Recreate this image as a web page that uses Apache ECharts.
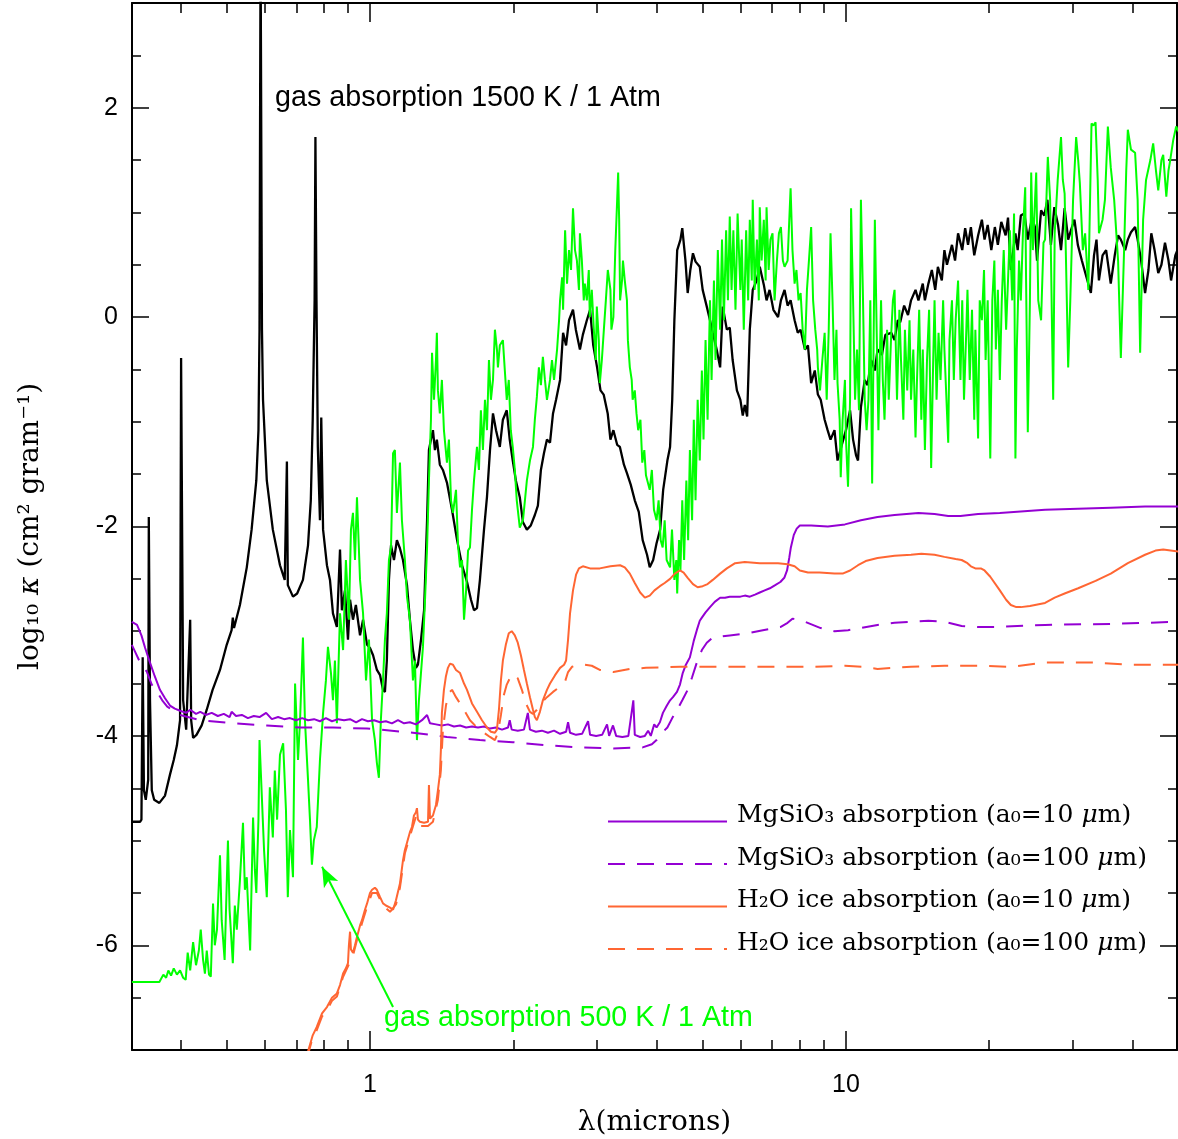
<!DOCTYPE html>
<html><head><meta charset="utf-8">
<script src="https://cdn.jsdelivr.net/npm/echarts@6/dist/echarts.min.js"></script>
<style>html,body{margin:0;padding:0;background:#fff}#c{width:1178px;height:1139px}</style>
</head><body><div id="c"></div>
<script>
// ---- tick values ----
const xMajorTicks = [1, 10];
const xMinorTicks = [0.4,0.5,0.6,0.7,0.8,0.9,2,3,4,5,6,7,8,9,20,30,40];
const yMajorTicks = [-6,-4,-2,0,2];
const yMinorTicks = [-6.5,-5.5,-5,-4.5,-3.5,-3,-2.5,-1.5,-1,-0.5,0.5,1,1.5,2.5];

// ---- series names ----
const names = [
  'MgSiO\u2083 absorption (a\u2080=10 \u03bcm)',
  'MgSiO\u2083 absorption (a\u2080=100 \u03bcm)',
  'H\u2082O ice absorption (a\u2080=10 \u03bcm)',
  'H\u2082O ice absorption (a\u2080=100 \u03bcm)'
];

// ---- gas absorption 1500 K / 1 Atm  [lambda (micron), log10 kappa] ----
const gas1500K = [[0.316,-4.82],[0.329,-4.82],[0.331,-4.80],[0.333,-3.25],[0.335,-4.52],[0.338,-4.61],[0.342,-4.42],[0.343,-1.91],[0.345,-3.66],[0.348,-4.52],[0.352,-4.61],[0.361,-4.64],[0.371,-4.57],[0.380,-4.37],[0.387,-4.23],[0.393,-4.09],[0.399,-3.85],[0.401,-0.39],[0.405,-3.66],[0.411,-3.94],[0.419,-2.89],[0.421,-3.85],[0.425,-4.02],[0.432,-3.99],[0.443,-3.90],[0.454,-3.75],[0.467,-3.56],[0.484,-3.37],[0.500,-3.13],[0.512,-2.99],[0.515,-2.87],[0.518,-2.97],[0.533,-2.75],[0.551,-2.39],[0.564,-2.03],[0.577,-1.56],[0.583,-1.08],[0.586,-0.12],[0.589,3.6],[0.593,-0.12],[0.596,-0.79],[0.607,-1.56],[0.625,-2.03],[0.647,-2.37],[0.662,-2.51],[0.669,-1.38],[0.672,-2.56],[0.689,-2.67],[0.703,-2.64],[0.723,-2.51],[0.741,-2.18],[0.751,-1.75],[0.758,-0.98],[0.765,0.16],[0.768,1.72],[0.772,0.16],[0.777,-1.24],[0.785,-1.94],[0.790,-0.96],[0.797,-2.03],[0.812,-2.37],[0.824,-2.51],[0.836,-2.83],[0.852,-2.96],[0.865,-2.22],[0.873,-2.80],[0.886,-2.61],[0.899,-3.08],[0.908,-2.70],[0.921,-2.89],[0.934,-2.75],[0.953,-3.04],[0.967,-2.89],[0.986,-3.13],[1.0,-3.16],[1.015,-3.23],[1.034,-3.37],[1.05,-3.42],[1.065,-3.56],[1.075,-3.58],[1.085,-3.28],[1.096,-2.51],[1.107,-2.18],[1.123,-2.32],[1.139,-2.13],[1.156,-2.21],[1.173,-2.32],[1.196,-2.56],[1.213,-2.89],[1.231,-3.18],[1.249,-3.35],[1.261,-3.32],[1.28,-3.08],[1.299,-2.80],[1.318,-1.94],[1.33,-1.27],[1.343,-1.17],[1.356,-1.08],[1.369,-1.27],[1.382,-1.17],[1.402,-1.41],[1.423,-1.46],[1.451,-1.58],[1.487,-1.84],[1.524,-2.13],[1.561,-2.37],[1.599,-2.53],[1.63,-2.70],[1.654,-2.80],[1.678,-2.78],[1.702,-2.51],[1.736,-2.03],[1.761,-1.72],[1.787,-1.27],[1.813,-0.92],[1.84,-1.08],[1.874,-1.24],[1.902,-0.98],[1.938,-0.89],[1.966,-1.17],[1.995,-1.37],[2.025,-1.56],[2.064,-1.72],[2.096,-1.96],[2.136,-2.03],[2.177,-1.99],[2.22,-1.89],[2.253,-1.80],[2.286,-1.46],[2.32,-1.30],[2.354,-1.17],[2.389,-1.20],[2.424,-0.92],[2.46,-0.79],[2.508,-0.60],[2.545,-0.15],[2.582,-0.27],[2.619,-0.03],[2.67,0.07],[2.707,-0.12],[2.761,-0.31],[2.8,-0.17],[2.855,-0.03],[2.9,0.07],[2.945,-0.27],[3.0,-0.48],[3.05,-0.70],[3.097,-0.74],[3.158,-0.92],[3.2,-1.17],[3.246,-1.08],[3.306,-1.22],[3.35,-1.24],[3.416,-1.41],[3.466,-1.49],[3.53,-1.60],[3.6,-1.75],[3.67,-1.86],[3.74,-2.13],[3.82,-2.27],[3.87,-2.39],[3.935,-2.32],[4.0,-2.16],[4.07,-2.03],[4.13,-1.65],[4.215,-1.37],[4.27,-1.24],[4.315,-0.79],[4.36,-0.03],[4.42,0.64],[4.49,0.74],[4.53,0.85],[4.6,0.54],[4.65,0.23],[4.71,0.45],[4.77,0.61],[4.83,0.53],[4.93,0.48],[5.0,0.26],[5.1,0.10],[5.18,-0.03],[5.25,-0.15],[5.35,-0.31],[5.44,-0.48],[5.51,0.10],[5.62,-0.12],[5.7,-0.10],[5.78,-0.41],[5.9,-0.70],[6.0,-0.79],[6.07,-0.94],[6.13,-0.84],[6.2,-0.95],[6.28,-0.12],[6.37,0.26],[6.49,0.35],[6.59,0.48],[6.72,0.31],[6.81,0.16],[6.91,0.26],[7.04,0.07],[7.2,0.0],[7.3,0.16],[7.43,0.26],[7.54,0.11],[7.65,0.16],[7.8,-0.03],[7.92,-0.15],[8.03,-0.12],[8.2,-0.31],[8.32,-0.27],[8.45,-0.63],[8.6,-0.51],[8.73,-0.74],[8.85,-0.79],[9.02,-0.98],[9.15,-1.08],[9.28,-1.17],[9.46,-1.08],[9.6,-1.37],[9.8,-1.22],[10.0,-1.08],[10.2,-0.89],[10.35,-1.17],[10.5,-1.32],[10.6,-1.37],[10.75,-0.86],[10.95,-0.60],[11.1,-0.65],[11.3,-0.41],[11.5,-0.51],[11.65,-0.31],[11.9,-0.36],[12.1,-0.17],[12.45,-0.15],[12.65,-0.22],[12.85,-0.03],[13.0,-0.05],[13.25,0.11],[13.5,0.02],[13.7,0.16],[14.0,0.26],[14.2,0.16],[14.5,0.32],[14.65,0.16],[14.9,0.32],[15.15,0.45],[15.4,0.26],[15.6,0.48],[15.9,0.35],[16.1,0.64],[16.3,0.50],[16.7,0.69],[16.95,0.54],[17.2,0.80],[17.55,0.64],[17.8,0.85],[18.05,0.69],[18.3,0.86],[18.6,0.59],[18.95,0.78],[19.3,0.93],[19.55,0.74],[19.85,0.88],[20.2,0.64],[20.55,0.86],[20.85,0.69],[21.2,0.91],[21.65,0.78],[21.9,0.95],[22.2,0.45],[22.7,0.80],[22.95,0.64],[23.3,0.97],[23.7,0.99],[24.1,0.74],[24.6,0.95],[24.95,0.86],[25.2,0.54],[25.7,1.02],[26.1,0.97],[26.5,1.12],[26.95,0.69],[27.4,1.05],[27.9,0.88],[28.3,0.64],[28.8,1.04],[29.3,0.74],[29.7,0.83],[30.2,0.93],[30.7,0.69],[31.3,0.54],[32.7,0.23],[33.2,0.59],[33.6,0.74],[34.0,0.35],[34.6,0.59],[35.2,0.64],[36.0,0.32],[36.7,0.59],[37.3,0.78],[37.8,0.74],[38.6,0.64],[39.1,0.74],[39.7,0.81],[40.5,0.86],[41.0,0.74],[41.7,0.54],[42.5,0.23],[43.2,0.45],[43.8,0.80],[44.5,0.64],[45.3,0.42],[46.0,0.50],[46.8,0.71],[47.6,0.54],[48.2,0.35],[49.2,0.59],[50.0,0.67]];

// ---- gas absorption 500 K / 1 Atm ----
const gas500K = [[0.316,-6.35],[0.361,-6.35],[0.368,-6.28],[0.373,-6.31],[0.377,-6.24],[0.382,-6.29],[0.387,-6.22],[0.393,-6.28],[0.399,-6.24],[0.405,-6.31],[0.41,-6.33],[0.414,-6.07],[0.419,-6.24],[0.425,-5.97],[0.431,-6.19],[0.437,-6.05],[0.441,-5.85],[0.446,-6.14],[0.45,-6.27],[0.454,-6.05],[0.459,-6.28],[0.463,-6.30],[0.468,-5.60],[0.472,-6.00],[0.477,-5.85],[0.484,-5.14],[0.488,-5.76],[0.495,-6.14],[0.503,-5.00],[0.507,-5.66],[0.515,-6.17],[0.52,-5.62],[0.525,-5.85],[0.533,-5.38],[0.541,-4.83],[0.546,-5.47],[0.551,-5.35],[0.56,-6.05],[0.568,-4.78],[0.573,-5.28],[0.577,-5.50],[0.583,-4.80],[0.586,-4.04],[0.593,-4.61],[0.599,-5.09],[0.607,-5.54],[0.616,-4.49],[0.625,-4.97],[0.631,-4.33],[0.638,-4.80],[0.647,-4.18],[0.657,-4.07],[0.666,-4.71],[0.672,-5.54],[0.679,-4.90],[0.689,-5.35],[0.696,-3.50],[0.706,-4.23],[0.713,-3.85],[0.723,-3.06],[0.73,-3.85],[0.741,-4.42],[0.748,-4.80],[0.755,-5.23],[0.762,-5.00],[0.773,-4.87],[0.785,-4.23],[0.797,-3.78],[0.808,-3.47],[0.816,-3.15],[0.828,-3.40],[0.836,-3.66],[0.844,-3.28],[0.852,-3.88],[0.865,-2.83],[0.878,-3.18],[0.89,-2.32],[0.903,-2.89],[0.912,-2.03],[0.921,-1.87],[0.93,-2.32],[0.939,-1.72],[0.953,-2.51],[0.967,-2.83],[0.981,-3.47],[0.995,-3.08],[1.01,-3.85],[1.024,-4.04],[1.034,-4.26],[1.044,-4.40],[1.054,-3.85],[1.065,-3.47],[1.075,-3.08],[1.085,-2.83],[1.096,-2.32],[1.107,-2.20],[1.118,-1.30],[1.128,-1.27],[1.139,-1.87],[1.156,-1.39],[1.167,-1.94],[1.184,-2.32],[1.196,-2.67],[1.213,-2.89],[1.231,-3.47],[1.243,-3.28],[1.255,-4.04],[1.267,-3.66],[1.292,-3.15],[1.305,-2.70],[1.318,-2.20],[1.33,-1.56],[1.343,-0.98],[1.35,-0.34],[1.363,-0.79],[1.376,-0.41],[1.382,-0.15],[1.389,-0.70],[1.402,-0.92],[1.416,-0.60],[1.43,-1.08],[1.451,-1.39],[1.465,-1.17],[1.48,-1.75],[1.494,-1.87],[1.516,-1.65],[1.531,-2.18],[1.546,-2.39],[1.561,-2.32],[1.576,-2.89],[1.592,-2.61],[1.607,-2.23],[1.622,-2.20],[1.638,-1.84],[1.654,-1.56],[1.678,-1.24],[1.694,-1.46],[1.71,-0.89],[1.727,-1.27],[1.744,-0.79],[1.761,-1.08],[1.778,-0.41],[1.795,-0.79],[1.813,-0.60],[1.83,-0.12],[1.848,-0.31],[1.857,-0.48],[1.874,-0.27],[1.902,-0.22],[1.92,-0.51],[1.938,-0.79],[1.957,-0.60],[1.976,-1.08],[1.995,-1.24],[2.015,-1.46],[2.034,-1.75],[2.064,-2.01],[2.096,-1.94],[2.116,-1.75],[2.136,-1.56],[2.168,-1.37],[2.2,-1.24],[2.22,-0.98],[2.242,-0.76],[2.264,-0.48],[2.286,-0.65],[2.308,-0.38],[2.331,-0.60],[2.354,-0.79],[2.389,-0.60],[2.412,-0.41],[2.436,-0.60],[2.472,-0.31],[2.496,-0.03],[2.508,0.16],[2.533,0.38],[2.545,0.07],[2.57,0.83],[2.594,0.32],[2.619,0.64],[2.645,0.45],[2.67,1.04],[2.696,0.64],[2.721,0.54],[2.748,0.26],[2.761,0.80],[2.787,0.54],[2.813,0.16],[2.827,0.32],[2.855,0.16],[2.882,0.45],[2.896,0.0],[2.924,0.26],[2.953,-0.12],[2.981,-0.41],[2.996,0.10],[3.025,-0.22],[3.04,-0.63],[3.07,-0.41],[3.1,-0.12],[3.13,0.16],[3.16,0.45],[3.2,0.26],[3.215,-0.12],[3.246,0.0],[3.276,0.64],[3.306,1.12],[3.322,1.38],[3.338,0.93],[3.353,0.16],[3.385,0.35],[3.4,0.54],[3.43,0.35],[3.466,0.16],[3.482,-0.22],[3.515,-0.48],[3.547,-0.60],[3.563,-0.79],[3.6,-0.70],[3.63,-0.92],[3.66,-1.08],[3.7,-0.98],[3.733,-1.39],[3.77,-1.27],[3.8,-1.51],[3.87,-1.65],[3.91,-1.46],[3.95,-1.84],[4.0,-1.94],[4.04,-1.75],[4.08,-2.13],[4.12,-2.20],[4.16,-1.94],[4.2,-2.32],[4.27,-2.39],[4.31,-2.03],[4.36,-2.51],[4.4,-2.32],[4.42,-2.64],[4.46,-2.13],[4.49,-2.42],[4.53,-1.75],[4.57,-2.32],[4.62,-1.56],[4.66,-2.13],[4.7,-1.27],[4.75,-1.94],[4.79,-0.98],[4.83,-1.75],[4.88,-0.79],[4.93,-1.37],[4.98,-0.51],[5.02,-1.17],[5.07,-0.22],[5.12,-0.98],[5.18,0.16],[5.22,-0.60],[5.28,0.35],[5.32,-0.41],[5.38,0.64],[5.44,-0.12],[5.49,0.74],[5.54,-0.03],[5.6,0.83],[5.65,0.16],[5.7,0.96],[5.75,0.26],[5.8,0.83],[5.86,0.07],[5.92,0.99],[6.0,0.26],[6.04,0.74],[6.1,-0.12],[6.17,0.83],[6.23,0.16],[6.28,0.93],[6.34,0.35],[6.37,1.12],[6.43,0.26],[6.5,0.74],[6.56,0.16],[6.59,1.05],[6.65,0.54],[6.72,0.93],[6.78,0.35],[6.81,1.05],[6.88,0.45],[6.94,0.74],[7.01,0.80],[7.08,0.16],[7.16,0.54],[7.23,0.80],[7.3,0.86],[7.37,0.54],[7.43,0.48],[7.54,0.54],[7.65,1.23],[7.72,0.64],[7.8,0.32],[7.87,0.45],[7.95,0.16],[8.03,0.23],[8.11,-0.12],[8.2,-0.31],[8.28,0.26],[8.36,0.54],[8.45,0.86],[8.53,0.16],[8.62,-0.12],[8.7,-0.31],[8.73,-0.48],[8.82,-0.70],[8.92,-0.41],[9.02,-0.15],[9.11,-0.79],[9.2,-0.12],[9.28,0.80],[9.37,0.16],[9.46,-0.60],[9.55,-0.12],[9.6,-0.63],[9.7,-0.98],[9.75,-1.53],[9.84,-0.98],[9.95,-0.60],[10.0,-1.17],[10.1,-1.62],[10.2,-0.79],[10.25,1.04],[10.35,0.16],[10.45,-0.79],[10.55,-0.31],[10.65,-0.89],[10.75,1.12],[10.85,0.26],[10.95,-0.79],[11.05,-1.08],[11.15,-0.79],[11.25,0.16],[11.35,-1.59],[11.5,0.93],[11.6,-0.12],[11.7,-1.08],[11.85,0.16],[11.95,-0.60],[12.05,-0.98],[12.2,-0.12],[12.3,-0.79],[12.45,-0.15],[12.55,0.16],[12.65,0.26],[12.8,-0.79],[12.95,0.07],[13.05,-0.41],[13.2,-0.98],[13.3,-0.12],[13.45,-0.70],[13.6,-0.03],[13.7,-0.79],[13.85,-0.31],[14.0,-1.15],[14.1,-0.60],[14.25,0.07],[14.4,-0.98],[14.5,-0.31],[14.65,-1.27],[14.8,-0.41],[14.95,0.07],[15.1,-1.44],[15.25,-0.41],[15.35,0.16],[15.5,-0.79],[15.65,-0.15],[15.8,-0.60],[16.0,0.16],[16.1,-0.31],[16.4,-1.20],[16.5,-0.22],[16.7,0.16],[16.85,-0.60],[17.0,-0.03],[17.2,0.35],[17.4,-0.60],[17.55,0.16],[17.7,-0.79],[17.9,-0.12],[18.0,0.26],[18.2,-0.60],[18.4,0.07],[18.6,-0.98],[18.7,-0.12],[18.95,-1.16],[19.1,0.16],[19.3,-0.03],[19.5,0.45],[19.65,-0.41],[19.85,0.16],[20.1,-1.35],[20.3,0.16],[20.5,0.54],[20.65,-0.31],[20.85,0.26],[21.05,-0.60],[21.25,0.16],[21.45,0.64],[21.7,-0.12],[21.9,0.35],[22.1,0.83],[22.35,0.16],[22.55,0.99],[22.7,-1.35],[22.85,-0.31],[23.1,0.54],[23.3,0.16],[23.55,0.83],[23.8,1.24],[23.9,0.35],[24.1,-1.10],[24.35,0.16],[24.5,1.38],[24.7,0.64],[25.1,1.38],[25.35,0.16],[25.7,-0.03],[26.0,0.71],[26.2,0.74],[26.55,1.53],[26.85,1.12],[27.1,-0.12],[27.25,-0.79],[27.45,0.80],[27.85,1.31],[28.3,1.72],[28.55,1.31],[28.8,1.18],[29.3,-0.48],[29.6,0.16],[30.0,1.12],[30.45,1.72],[30.75,1.50],[31.0,1.28],[31.45,0.64],[31.8,0.80],[32.3,0.26],[32.8,1.85],[33.1,1.83],[33.45,1.86],[33.8,1.31],[34.0,0.80],[34.6,0.93],[35.0,1.12],[35.5,1.82],[36.0,1.43],[36.6,1.12],[37.3,0.54],[37.8,-0.39],[38.4,0.64],[38.8,1.40],[39.1,1.79],[39.7,1.60],[40.5,1.57],[41.0,1.12],[41.5,-0.34],[42.1,0.93],[42.7,1.31],[43.6,1.50],[44.2,1.66],[44.8,1.40],[45.3,1.21],[46.0,1.50],[46.4,1.55],[47.1,1.15],[47.6,1.40],[48.0,1.50],[48.7,1.69],[49.4,1.82],[50.0,1.77]];

// ---- MgSiO3, a0 = 10 micron ----
const mgsio3_10 = [[0.316,-2.91],[0.324,-2.94],[0.331,-3.04],[0.337,-3.16],[0.345,-3.30],[0.353,-3.43],[0.362,-3.56],[0.371,-3.64],[0.38,-3.71],[0.389,-3.74],[0.399,-3.76],[0.411,-3.78],[0.419,-3.75],[0.431,-3.79],[0.44,-3.77],[0.452,-3.80],[0.465,-3.78],[0.479,-3.81],[0.493,-3.79],[0.507,-3.82],[0.512,-3.77],[0.523,-3.81],[0.538,-3.80],[0.554,-3.83],[0.57,-3.81],[0.586,-3.82],[0.605,-3.78],[0.622,-3.84],[0.641,-3.82],[0.66,-3.84],[0.679,-3.83],[0.699,-3.85],[0.72,-3.83],[0.741,-3.85],[0.763,-3.84],[0.785,-3.86],[0.808,-3.83],[0.832,-3.86],[0.857,-3.84],[0.882,-3.85],[0.908,-3.84],[0.935,-3.87],[0.962,-3.84],[0.99,-3.86],[1.02,-3.85],[1.05,-3.87],[1.08,-3.86],[1.112,-3.88],[1.145,-3.85],[1.179,-3.88],[1.213,-3.87],[1.249,-3.89],[1.286,-3.85],[1.318,-3.80],[1.337,-3.88],[1.376,-3.89],[1.416,-3.90],[1.458,-3.89],[1.501,-3.91],[1.546,-3.90],[1.592,-3.92],[1.638,-3.91],[1.686,-3.92],[1.736,-3.91],[1.787,-3.93],[1.84,-3.92],[1.894,-3.94],[1.95,-3.92],[1.966,-3.85],[1.985,-3.94],[2.044,-3.95],[2.106,-3.94],[2.146,-3.78],[2.168,-3.94],[2.231,-3.96],[2.297,-3.95],[2.365,-3.97],[2.436,-3.95],[2.508,-3.98],[2.582,-3.96],[2.607,-3.87],[2.632,-3.97],[2.71,-3.99],[2.79,-3.98],[2.872,-3.86],[2.9,-3.99],[2.986,-4.00],[3.074,-3.99],[3.148,-3.89],[3.18,-4.00],[3.24,-3.90],[3.29,-4.00],[3.39,-4.01],[3.49,-4.00],[3.575,-3.66],[3.6,-3.99],[3.695,-4.01],[3.78,-4.00],[3.84,-3.95],[3.89,-4.00],[3.955,-3.89],[4.0,-3.92],[4.065,-3.87],[4.125,-3.78],[4.205,-3.71],[4.27,-3.66],[4.33,-3.63],[4.415,-3.58],[4.48,-3.51],[4.54,-3.40],[4.61,-3.32],[4.7,-3.25],[4.79,-3.09],[4.86,-2.99],[4.93,-2.90],[4.98,-2.87],[5.07,-2.82],[5.18,-2.77],[5.3,-2.72],[5.44,-2.68],[5.57,-2.68],[5.7,-2.67],[5.85,-2.67],[6.0,-2.67],[6.13,-2.66],[6.28,-2.67],[6.44,-2.65],[6.59,-2.63],[6.75,-2.61],[6.92,-2.59],[7.1,-2.56],[7.28,-2.53],[7.42,-2.49],[7.52,-2.42],[7.6,-2.30],[7.66,-2.20],[7.77,-2.08],[7.88,-2.02],[8.0,-1.99],[8.45,-1.99],[9.16,-2.00],[9.95,-1.98],[10.75,-1.94],[11.65,-1.91],[12.65,-1.89],[14.2,-1.87],[15.35,-1.88],[16.4,-1.90],[17.4,-1.90],[18.95,-1.88],[21.05,-1.87],[26.2,-1.84],[36.0,-1.82],[42.5,-1.81],[50.0,-1.81]];

// ---- MgSiO3, a0 = 100 micron ----
const mgsio3_100 = [[0.316,-3.13],[0.329,-3.30],[0.34,-3.39],[0.348,-3.51],[0.357,-3.58],[0.366,-3.66],[0.375,-3.72],[0.386,-3.76],[0.399,-3.80],[0.44,-3.85],[0.515,-3.88],[0.607,-3.90],[0.713,-3.92],[0.836,-3.92],[0.986,-3.93],[1.05,-3.94],[1.231,-3.97],[1.451,-4.01],[1.702,-4.04],[1.995,-4.06],[2.354,-4.09],[2.761,-4.11],[3.246,-4.12],[3.74,-4.11],[3.91,-4.08],[4.0,-4.04],[4.11,-3.97],[4.215,-3.92],[4.315,-3.83],[4.42,-3.75],[4.53,-3.66],[4.65,-3.56],[4.75,-3.44],[4.86,-3.30],[4.98,-3.18],[5.1,-3.11],[5.25,-3.06],[5.49,-3.05],[5.7,-3.04],[6.2,-3.02],[6.69,-2.99],[7.28,-2.96],[7.54,-2.92],[7.72,-2.88],[7.92,-2.89],[8.2,-2.91],[8.85,-2.97],[9.46,-3.00],[10.1,-2.99],[10.75,-2.97],[11.65,-2.94],[12.65,-2.92],[14.9,-2.90],[16.1,-2.91],[17.5,-2.95],[18.95,-2.96],[20.55,-2.96],[26.2,-2.94],[36.0,-2.93],[50.0,-2.91]];

// ---- H2O ice, a0 = 10 micron ----
const ice_10 = [[0.734,-7.08],[0.748,-6.95],[0.758,-6.86],[0.773,-6.78],[0.793,-6.65],[0.812,-6.59],[0.832,-6.50],[0.852,-6.46],[0.865,-6.38],[0.878,-6.27],[0.89,-6.22],[0.899,-6.17],[0.903,-6.00],[0.908,-5.87],[0.912,-6.04],[0.921,-6.07],[0.93,-6.00],[0.939,-5.92],[0.953,-5.81],[0.962,-5.76],[0.976,-5.66],[0.986,-5.60],[1.0,-5.50],[1.01,-5.47],[1.024,-5.45],[1.034,-5.47],[1.05,-5.54],[1.065,-5.60],[1.08,-5.62],[1.102,-5.64],[1.118,-5.66],[1.134,-5.57],[1.156,-5.41],[1.173,-5.19],[1.184,-5.09],[1.196,-5.02],[1.213,-4.92],[1.225,-4.87],[1.237,-4.76],[1.249,-4.73],[1.255,-4.69],[1.261,-4.80],[1.273,-4.82],[1.299,-4.83],[1.324,-4.82],[1.33,-4.47],[1.337,-4.79],[1.356,-4.76],[1.376,-4.66],[1.389,-4.52],[1.402,-4.37],[1.409,-4.14],[1.416,-3.78],[1.43,-3.56],[1.444,-3.43],[1.458,-3.35],[1.473,-3.31],[1.494,-3.32],[1.516,-3.37],[1.546,-3.40],[1.576,-3.50],[1.599,-3.56],[1.638,-3.69],[1.678,-3.77],[1.719,-3.85],[1.761,-3.92],[1.795,-3.96],[1.83,-3.97],[1.848,-3.94],[1.866,-3.75],[1.884,-3.47],[1.902,-3.28],[1.929,-3.13],[1.957,-3.02],[1.985,-3.00],[2.015,-3.04],[2.044,-3.11],[2.075,-3.23],[2.106,-3.37],[2.136,-3.50],[2.168,-3.63],[2.2,-3.75],[2.22,-3.82],[2.242,-3.85],[2.275,-3.77],[2.308,-3.66],[2.354,-3.56],[2.389,-3.50],[2.448,-3.42],[2.508,-3.35],[2.557,-3.32],[2.582,-3.28],[2.607,-3.08],[2.632,-2.83],[2.67,-2.61],[2.71,-2.46],[2.748,-2.40],[2.8,-2.38],[2.9,-2.40],[3.04,-2.40],[3.2,-2.38],[3.353,-2.37],[3.43,-2.39],[3.515,-2.45],[3.6,-2.54],[3.695,-2.63],[3.78,-2.68],[3.87,-2.66],[3.96,-2.61],[4.065,-2.57],[4.16,-2.54],[4.27,-2.50],[4.37,-2.45],[4.48,-2.42],[4.56,-2.44],[4.65,-2.49],[4.77,-2.55],[4.88,-2.58],[5.0,-2.57],[5.12,-2.55],[5.25,-2.51],[5.44,-2.45],[5.62,-2.40],[5.85,-2.35],[6.13,-2.34],[6.59,-2.35],[7.2,-2.35],[7.54,-2.36],[7.8,-2.38],[8.0,-2.42],[8.32,-2.44],[8.8,-2.44],[9.46,-2.45],[9.84,-2.45],[10.2,-2.42],[10.6,-2.37],[11.0,-2.33],[11.65,-2.30],[12.65,-2.28],[13.7,-2.27],[14.4,-2.26],[15.35,-2.27],[16.1,-2.29],[17.0,-2.31],[17.5,-2.32],[18.0,-2.35],[18.3,-2.38],[18.7,-2.40],[19.2,-2.40],[19.55,-2.42],[20.1,-2.48],[21.05,-2.61],[21.7,-2.70],[22.2,-2.75],[22.8,-2.77],[23.3,-2.77],[24.35,-2.76],[26.2,-2.73],[27.45,-2.68],[28.8,-2.64],[30.75,-2.59],[33.45,-2.52],[36.0,-2.45],[39.1,-2.35],[42.5,-2.27],[44.7,-2.23],[46.4,-2.22],[50.0,-2.24]];

// ---- H2O ice, a0 = 100 micron ----
const ice_100 = [[0.737,-7.08],[0.755,-6.91],[0.773,-6.81],[0.793,-6.68],[0.812,-6.62],[0.832,-6.53],[0.852,-6.49],[0.878,-6.30],[0.899,-6.20],[0.921,-6.10],[0.939,-5.95],[0.962,-5.79],[0.986,-5.63],[1.01,-5.50],[1.034,-5.50],[1.065,-5.62],[1.102,-5.68],[1.134,-5.61],[1.156,-5.45],[1.184,-5.12],[1.213,-4.96],[1.249,-4.77],[1.273,-4.86],[1.324,-4.86],[1.356,-4.82],[1.389,-4.61],[1.409,-4.33],[1.423,-3.94],[1.444,-3.71],[1.465,-3.59],[1.487,-3.56],[1.516,-3.63],[1.546,-3.69],[1.584,-3.77],[1.622,-3.85],[1.678,-3.92],[1.736,-3.97],[1.787,-4.01],[1.83,-4.04],[1.857,-3.97],[1.884,-3.80],[1.911,-3.61],[1.938,-3.51],[1.976,-3.43],[2.005,-3.41],[2.044,-3.45],[2.085,-3.56],[2.126,-3.69],[2.168,-3.77],[2.2,-3.79],[2.242,-3.75],[2.286,-3.69],[2.354,-3.63],[2.424,-3.58],[2.508,-3.53],[2.57,-3.48],[2.607,-3.39],[2.657,-3.34],[2.735,-3.32],[2.827,-3.32],[2.924,-3.33],[3.04,-3.37],[3.246,-3.39],[3.515,-3.36],[3.8,-3.35],[4.48,-3.34],[5.25,-3.34],[6.2,-3.34],[7.28,-3.34],[8.45,-3.34],[9.95,-3.33],[10.8,-3.34],[11.65,-3.36],[12.65,-3.35],[13.7,-3.34],[16.1,-3.33],[18.95,-3.33],[22.2,-3.34],[26.2,-3.30],[30.2,-3.30],[33.45,-3.30],[39.1,-3.32],[50.0,-3.32]];

// ---- arrow for the 500 K label [start, tip] ----
const arrowFrom = [1.118, -6.59];
const arrowTo = [0.793, -5.25];

const X_MIN = 0.3162278, X_MAX = 49.6, Y_MIN = -7, Y_MAX = 3;
const C_BLACK = '#000000', C_GREEN = '#00ff00', C_PURPLE = '#9400d3', C_ORANGE = '#ff6633';
const SANS = '"Liberation Sans", Arial, sans-serif';
const SERIF = '"DejaVu Serif", serif';

function xAxisDef(pos, ticks, len, labels, line) {
  return {
    type: 'log', logBase: 10, min: X_MIN, max: X_MAX, position: pos, gridIndex: 0,
    axisLine: { show: line, onZero: false, lineStyle: { color: '#000', width: 2 } },
    axisTick: { show: true, inside: true, length: len, customValues: ticks, lineStyle: { color: '#000', width: 1.5 } },
    axisLabel: { show: labels, customValues: ticks, fontFamily: SANS, fontSize: 25, color: '#000', margin: 23 },
    splitLine: { show: false }, minorTick: { show: false }, minorSplitLine: { show: false }
  };
}
function yAxisDef(pos, ticks, len, labels, line) {
  return {
    type: 'value', min: Y_MIN, max: Y_MAX, position: pos, gridIndex: 0,
    axisLine: { show: line, onZero: false, lineStyle: { color: '#000', width: 2 } },
    axisTick: { show: true, inside: true, length: len, customValues: ticks, lineStyle: { color: '#000', width: 1.5 } },
    axisLabel: { show: labels, customValues: ticks, fontFamily: SANS, fontSize: 25, color: '#000', margin: 14 },
    splitLine: { show: false }, minorTick: { show: false }, minorSplitLine: { show: false }
  };
}

const xAxes = [
  xAxisDef('bottom', xMajorTicks, 19, true, true),
  xAxisDef('bottom', xMinorTicks, 10, false, false),
  xAxisDef('top', xMajorTicks, 19, false, true),
  xAxisDef('top', xMinorTicks, 10, false, false)
];
Object.assign(xAxes[0], {
  name: '\u03bb(microns)', nameLocation: 'middle', nameGap: 59,
  nameTextStyle: { fontFamily: SERIF, fontSize: 28, color: '#000' }
});
const yAxes = [
  yAxisDef('left', yMajorTicks, 17, true, true),
  yAxisDef('left', yMinorTicks, 9, false, false),
  yAxisDef('right', yMajorTicks, 17, false, true),
  yAxisDef('right', yMinorTicks, 9, false, false)
];
Object.assign(yAxes[0], {
  name: '{a|log\u2081\u2080 }{k|\u03ba}{a| (cm\u00b2 gram\u207b\u00b9)}', nameLocation: 'middle', nameGap: 87, nameRotate: 90,
  nameTextStyle: { fontFamily: SERIF, fontSize: 28, color: '#000',
    rich: { a: { fontFamily: SERIF, fontSize: 28, color: '#000' }, k: { fontFamily: SERIF, fontStyle: 'italic', fontSize: 28, color: '#000' } } }
});

function lineSeries(name, data, color, width, dashed, extra) {
  return Object.assign({
    name: name, type: 'line', data: data, xAxisIndex: 0, yAxisIndex: 0,
    symbol: 'none', showSymbol: false, clip: true, silent: true, animation: false,
    lineStyle: { color: color, width: width, type: dashed ? [17, 12] : 'solid' },
    itemStyle: { color: color },
    emphasis: { disabled: true }
  }, extra || {});
}

function legendText(name) {
  const i = name.indexOf('\u03bc');
  return '{f|' + name.slice(0, i) + '}{m|\u03bc}{t|' + name.slice(i + 1) + '}';
}

const LFS = 25;
const option = {
  animation: false,
  backgroundColor: '#ffffff',
  grid: { left: 132, top: 3, width: 1045, height: 1047, containLabel: false, outerBoundsMode: 'none' },
  xAxis: xAxes,
  yAxis: yAxes,
  legend: {
    data: names, orient: 'vertical', left: 607, top: 803, padding: 0, itemWidth: 119, itemHeight: 40, itemGap: 8,
    selectedMode: false, inactiveColor: '#000',
    itemStyle: { opacity: 0 },
    formatter: legendText,
    textStyle: {
      fontFamily: SERIF, fontSize: LFS, color: '#000',
      rich: {
        f: { fontFamily: SERIF, fontSize: LFS, color: '#000', padding: [0, 0, 12, 5] },
        t: { fontFamily: SERIF, fontSize: LFS, color: '#000', padding: [0, 0, 12, 0] },
        m: { fontFamily: SERIF, fontSize: LFS, fontStyle: 'italic', color: '#000', padding: [0, 0, 12, 0] }
      }
    }
  },
  series: [
    lineSeries('gas 1500 K', gas1500K, C_BLACK, 2.3, false),
    lineSeries('gas 500 K', gas500K, C_GREEN, 2, false, {
      markLine: {
        silent: true, animation: false, symbol: ['none', 'arrow'], symbolSize: [12, 20],
        label: { show: false }, lineStyle: { color: C_GREEN, width: 2, type: 'solid' },
        data: [[{ coord: arrowFrom }, { coord: arrowTo }]]
      }
    }),
    lineSeries(names[0], mgsio3_10, C_PURPLE, 2, false),
    lineSeries(names[1], mgsio3_100, C_PURPLE, 2, true),
    lineSeries(names[2], ice_10, C_ORANGE, 2, false),
    lineSeries(names[3], ice_100, C_ORANGE, 2, true)
  ],
  graphic: [
    { type: 'text', x: 275, y: 98, style: { text: 'gas absorption 1500 K / 1 Atm', fill: '#000', font: '28.7px ' + SANS, verticalAlign: 'middle' } },
    { type: 'text', x: 384, y: 1018, style: { text: 'gas absorption 500 K / 1 Atm', fill: C_GREEN, font: '28.6px ' + SANS, verticalAlign: 'middle' } }
  ]
};

const chart = echarts.init(document.getElementById('c'), null, { renderer: 'canvas' });
chart.setOption(option);
</script>
</body></html>
